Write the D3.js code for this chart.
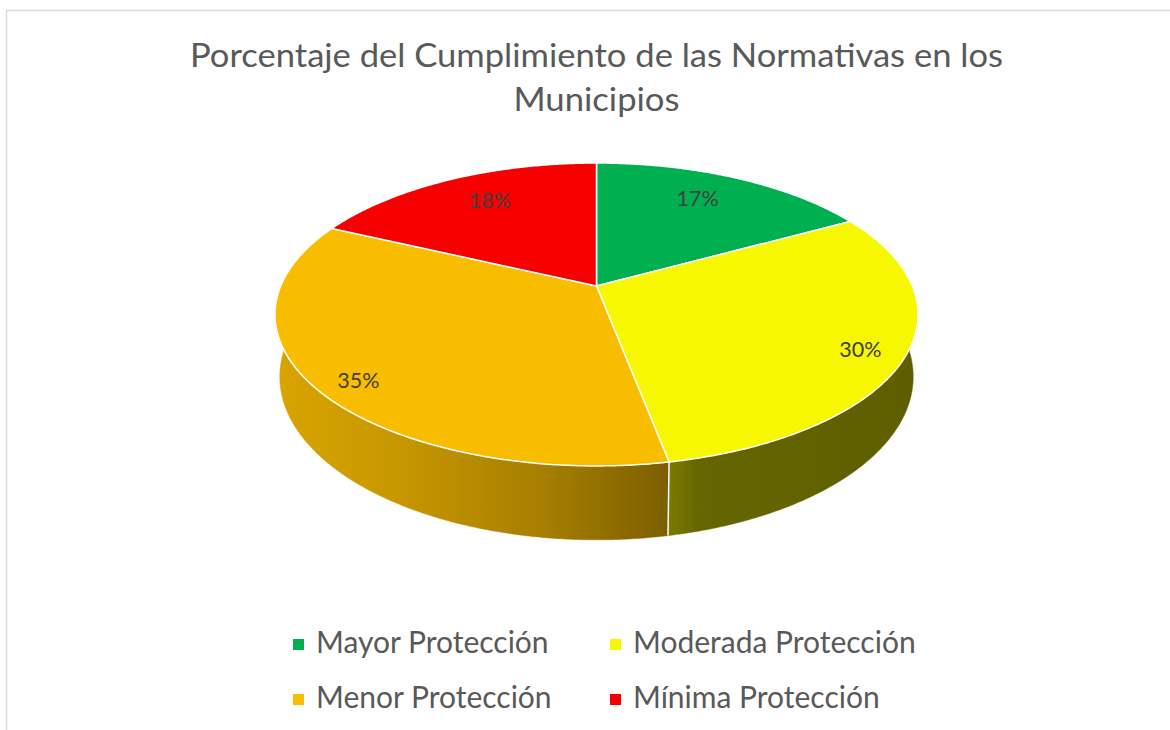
<!DOCTYPE html>
<html>
<head>
<meta charset="utf-8">
<script src="https://cdn.jsdelivr.net/npm/d3@7"></script>
<style>
  html, body { margin: 0; padding: 0; background: #fff; }
  svg { display: block; }
  text { font-family: Lato, "Open Sans", sans-serif; }
</style>
</head>
<body>
<svg id="chart" width="1170" height="730"></svg>
<script>
// ---- data ----
const titleLines = ["Porcentaje del Cumplimiento de las Normativas en los", "Municipios"];
const categories = ["Mayor Protección", "Moderada Protección", "Menor Protección", "Mínima Protección"];
const values = [17, 30, 35, 18];
const labels = ["17%", "30%", "35%", "18%"];
const colors = ["#00b050", "#f7f700", "#f9bd00", "#f60000"];

// ---- layout ----
const W = 1170, H = 730;
const svg = d3.select("#chart");
const cx = 596.5, cy = 286;          // projected centre of pie
const A = 315.8, B = 146.1;          // horizontal / vertical radii before perspective
const k = 0.188;                     // perspective strength
const depth = 60;                    // pie thickness
const bottomScale = 0.985;
const labelB = 161;

function proj(r, a, h) {
  const den = 1 + k * r * Math.cos(a);
  const s = h ? bottomScale : 1;
  return [cx + s * A * r * Math.sin(a) / den, cy + (-B * r * Math.cos(a) + depth * h) / den];
}

// chart border
svg.append("rect").attr("x", 6.5).attr("y", 10.5).attr("width", 1300).attr("height", 900)
  .attr("fill", "none").attr("stroke", "#d9d9d9").attr("stroke-width", 1.5);

// title
const titleWidths = [813, 166];
svg.append("g").selectAll("text").data(titleLines).join("text")
  .attr("x", cx).attr("y", (d, i) => 67 + i * 44)
  .attr("text-anchor", "middle").attr("fill", "#595959")
  .attr("font-size", 32)
  .attr("textLength", (d, i) => titleWidths[i]).attr("lengthAdjust", "spacingAndGlyphs")
  .text(d => d);

const pie = d3.pie().sort(null).value(d => d).startAngle(0).endAngle(2 * Math.PI);
const arcs = pie(values);

// lighting of side wall, by screen x
const light = d3.scaleLinear().domain([275, 400, 550, 668, 700, 918]).range([0.87, 0.80, 0.66, 0.5, 0.41, 0.38]).clamp(true);
const defs = svg.append("defs");
arcs.forEach((d, i) => {
  const g = defs.append("linearGradient").attr("id", "side" + i)
    .attr("gradientUnits", "userSpaceOnUse").attr("x1", 270).attr("x2", 925).attr("y1", 0).attr("y2", 0);
  const base = d3.rgb(colors[i]);
  d3.range(0, 1.0001, 0.025).forEach(t => {
    const x = 270 + t * 655, f = light(x);
    g.append("stop").attr("offset", t).attr("stop-color", d3.rgb(base.r * f, base.g * f, base.b * f).formatHex());
  });
});

function rimPoints(a0, a1, h) {
  const n = Math.max(2, Math.ceil((a1 - a0) / (Math.PI / 360)));
  return d3.range(n + 1).map(j => proj(1, a0 + (a1 - a0) * j / n, h));
}

// side walls
const lo = Math.PI / 3, hi = Math.PI * 5 / 3;
const sides = svg.append("g");
arcs.forEach((d, i) => {
  const a0 = Math.max(d.startAngle, lo), a1 = Math.min(d.endAngle, hi);
  if (a1 <= a0) return;
  const pts = rimPoints(a0, a1, 0).concat(rimPoints(a0, a1, 1).reverse());
  sides.append("path").attr("d", d3.line()(pts) + "Z")
    .attr("fill", `url(#side${i})`).attr("stroke", `url(#side${i})`).attr("stroke-width", 0.5);
});
// side separators
arcs.forEach((d, i) => {
  const a = d.startAngle;
  if (a > Math.PI / 2 && a < Math.PI * 1.5) {
    const p0 = proj(1, a, 0), p1 = proj(1, a, 1);
    sides.append("line").attr("x1", p0[0]).attr("y1", p0[1]).attr("x2", p1[0]).attr("y2", p1[1])
      .attr("stroke", "#fff").attr("stroke-width", 1.5);
  }
});

// top faces
svg.append("g").selectAll("path").data(arcs).join("path")
  .attr("d", d => d3.line()([[cx, cy]].concat(rimPoints(d.startAngle, d.endAngle, 0))) + "Z")
  .attr("fill", (d, i) => colors[i])
  .attr("stroke", "#fff").attr("stroke-width", 1.5).attr("stroke-linejoin", "round");

// data labels
svg.append("g").selectAll("text").data(arcs).join("text")
  .attr("transform", d => {
    const a = (d.startAngle + d.endAngle) / 2;
    const r = d.value < 25 ? 0.70 : 0.86;
    const den = 1 + k * r * Math.cos(a);
    const x = cx + A * r * Math.sin(a) / den;
    const y = cy - labelB * r * Math.cos(a) / den;
    return `translate(${x},${y + 7.5})`;
  })
  .attr("text-anchor", "middle").attr("fill", "#404040").attr("font-size", 21.5)
  .text((d, i) => labels[i]);

// legend
const legCols = [293, 610], legRows = [653, 708];
const leg = svg.append("g").selectAll("g").data(categories).join("g")
  .attr("transform", (d, i) => `translate(${legCols[i % 2]},${legRows[Math.floor(i / 2)]})`);
leg.append("rect").attr("x", 0).attr("y", -14).attr("width", 11).attr("height", 11)
  .attr("fill", (d, i) => colors[i]);
leg.append("text").attr("x", 23).attr("y", 0).attr("fill", "#595959").attr("font-size", 30)
  .text(d => d);
</script>
</body>
</html>
